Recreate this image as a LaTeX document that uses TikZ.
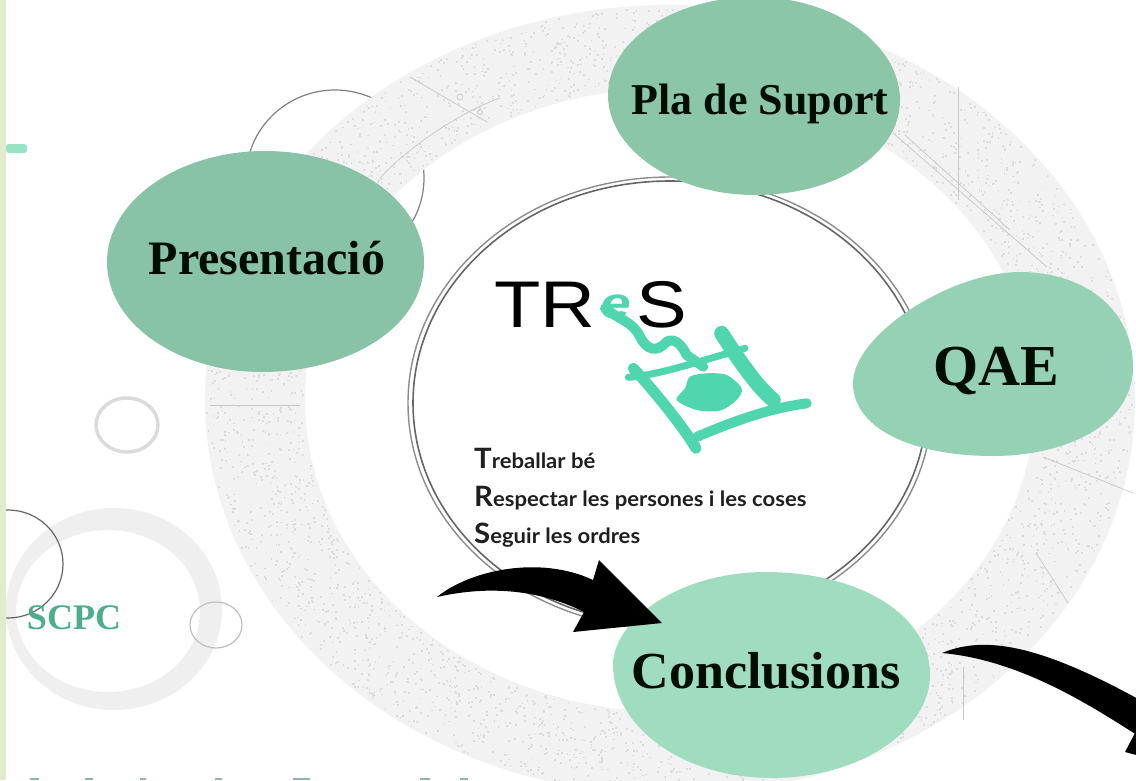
\documentclass[tikz,border=0pt]{standalone}
\usepackage{fontspec}
\setmainfont{Liberation Serif}
\newfontfamily\logofont{Liberation Sans}
\newfontfamily\listfont{Lato}
\definecolor{bandc}{HTML}{E2EBCD}
\definecolor{dashc}{HTML}{98E3C3}
\definecolor{ringc}{HTML}{F2F2F2}
\definecolor{dotc}{HTML}{DCDCDC}
\definecolor{paler}{HTML}{EEEFEE}
\definecolor{mint}{HTML}{4FD6AE}
\definecolor{scpcc}{HTML}{4FAE8A}
\definecolor{blobA}{HTML}{88C3A8}
\definecolor{blobB}{HTML}{8BC6A9}
\definecolor{blobC}{HTML}{95D1B4}
\definecolor{blobD}{HTML}{A0DCC0}
\definecolor{marks}{HTML}{8DB8A8}
\tikzset{
  blabel/.style={inner sep=0pt,font=\bfseries,text=black!95!green},
  sketch/.style={draw=black!22,line width=.7pt},
  liner/.style={inner sep=0pt,anchor=base west,font=\listfont\bfseries,text=black!88},
  mintline/.style={draw=mint,line cap=round,line join=round},
}
\newcommand{\bigfirst}[2]{\scalebox{1.05}[1]{{\fontsize{28}{28}\selectfont #1}{\fontsize{21}{21}\selectfont #2}}}
\begin{document}
\begin{tikzpicture}[x=1pt,y=-1pt]
\useasboundingbox (0,0) rectangle (1136,780);
\clip (0,0) rectangle (1136,780);
\fill[white] (0,0) rectangle (1136,780);
% thin circle behind the big ring
\draw[draw=black!50,line width=1.2pt] (335,178) ellipse (89 and 88);
% big ring
\fill[ringc,even odd rule] (670,400) ellipse (465 and 395) (670,400) ellipse (365 and 312);
\pgfmathsetseed{7}
\foreach \i in {1,...,3500}{
  \pgfmathsetmacro{\ang}{rnd*360}
  \pgfmathsetmacro{\fr}{rnd}
  \pgfmathsetmacro{\px}{670+(367+\fr*96)*cos(\ang)}
  \pgfmathsetmacro{\py}{400+(314+\fr*79)*sin(\ang)}
  \fill[dotc] (\px-.9,\py-.9) rectangle (\px+.9,\py+.9);
}
% sketch lines on the ring
\draw[sketch] (210,405) -- (300,405);
\draw[sketch] (410,77) -- (487,122);
\draw[sketch] (460,97) circle (3) (480,112) circle (2.5);
\draw[sketch] (380,178) .. controls (410,145) and (465,110) .. (500,98);
\draw[sketch] (958,87) -- (958,200);
\draw[sketch] (893,133) -- (1047,267);
\draw[sketch] (905,135) -- (1010,230);
\draw[sketch] (1036,553) -- (1068,603);
\draw[sketch] (963,667) -- (963,720);
\draw[sketch] (1043,457) -- (1133,493);
% inner double ring
\draw[draw=black!45,line width=1.4pt] (670,403) ellipse (262 and 226);
\draw[draw=black!60,line width=1.6pt] (670,403) ellipse (257 and 222);
% small decorative rings
\draw[draw=black!14,line width=3.5pt] (127,425) ellipse (31 and 27);
\fill[paler,even odd rule] (114,609) ellipse (108 and 101) (108,611) ellipse (92 and 81);
\draw[draw=black!60,line width=1.2pt] (8,564) ellipse (55 and 54);
\draw[draw=black!25,line width=1.2pt] (216,625) ellipse (26 and 23);
% left band and dash
\fill[bandc] (0,0) rectangle (6,780);
\fill[dashc,rounded corners=3pt] (6,144) rectangle (27,153);
% cropped line at the bottom
\foreach \mx/\mw in {30/9,85/8,140/6,215/7,293/17,420/10,460/8}{
  \fill[marks] (\mx,778) rectangle (\mx+\mw,780);
}
% blobs
\fill[blobA] (107,262) .. controls (107,201) and (178,151) .. (265,151) .. controls (352,151) and (424,201) .. (424,262) .. controls (424,330) and (345,372) .. (262,372) .. controls (180,372) and (107,325) .. cycle;
\fill[blobB] (608,95) .. controls (608,40) and (675,-3) .. (755,-3) .. controls (835,-3) and (900,45) .. (900,100) .. controls (900,155) and (835,195) .. (755,195) .. controls (675,195) and (608,150) .. cycle;
\fill[blobC] (853,383) .. controls (853,335) and (950,272) .. (1020,272) .. controls (1085,272) and (1133,310) .. (1133,367) .. controls (1133,425) and (1065,456) .. (993,456) .. controls (915,456) and (853,430) .. cycle;
\fill[blobD] (613,665) .. controls (613,620) and (680,572) .. (765,572) .. controls (860,572) and (930,615) .. (930,675) .. controls (930,730) and (860,778) .. (772,778) .. controls (680,778) and (613,725) .. cycle;
% blob labels
\node[blabel] (pres) at (267,258) {\fontsize{48}{48}\selectfont Presentació};
\node[blabel] (pla) at (760,104) {\fontsize{44}{44}\selectfont Pla de Suport};
\node[blabel] (qae) at (996,371) {\fontsize{58}{58}\selectfont QAE};
\node[blabel] (conc) at (766,671) {\fontsize{52}{52}\selectfont Conclusions};
\node[inner sep=0pt,font=\bfseries,text=scpcc] (scpc) at (74,618) {\fontsize{36}{36}\selectfont SCPC};
% logo
\node[inner sep=0pt,anchor=base west,font=\logofont] (tr) at (494,327) {\scalebox{1.15}[1]{\fontsize{66}{66}\selectfont TR}};
\node[inner sep=0pt,anchor=base west,font=\logofont] (s) at (636,327) {\scalebox{1.15}[1]{\fontsize{66}{66}\selectfont S}};
\begin{scope}[shift={(420,260)},x=.3333pt,y=-.3333pt]
\draw[mintline,line width=10pt] (555,145) .. controls (590,175) and (640,185) .. (660,230) .. controls (680,270) and (710,280) .. (740,245) .. controls (770,230) and (790,265) .. (800,285) -- (850,320);
\draw[mintline,line width=7pt] (625,352) .. controls (720,345) and (850,300) .. (975,265);
\draw[mintline,line width=11pt] (640,325) .. controls (700,390) and (790,500) .. (828,565);
\draw[mintline,line width=15pt] (905,220) .. controls (950,290) and (1010,380) .. (1060,420);
\draw[mintline,line width=10pt] (832,530) .. controls (950,480) and (1050,445) .. (1160,430);
\fill[mint] plot[smooth cycle] coordinates {(770,420)(795,385)(810,350)(860,340)(920,345)(965,385)(950,420)(900,452)(830,450)};
\end{scope}
\node[inner sep=0pt,anchor=base west,font=\logofont\bfseries\itshape,text=mint] (e) at (600,318) {\scalebox{1.25}[1]{\fontsize{44}{44}\selectfont e}};
% motto
\node[liner] (l1) at (474,468) {\bigfirst{T}{reballar bé}};
\node[liner] (l2) at (474,506) {\bigfirst{R}{espectar les persones i les coses}};
\node[liner] (l3) at (474,543) {\bigfirst{S}{eguir les ordres}};
% arrows
\fill[black] (437,597) .. controls (470,570) and (540,555) .. (593,580) -- (599,560) -- (662,623) -- (573,632) -- (584,612) .. controls (540,590) and (490,585) .. cycle;
\fill[black] (942,653) .. controls (985,635) and (1040,645) .. (1140,700) -- (1140,737) .. controls (1090,705) and (1020,660) .. cycle;
\fill[black] (1135,733) -- (1125,752) -- (1140,756) -- (1140,730) -- cycle;
\end{tikzpicture}
\end{document}
